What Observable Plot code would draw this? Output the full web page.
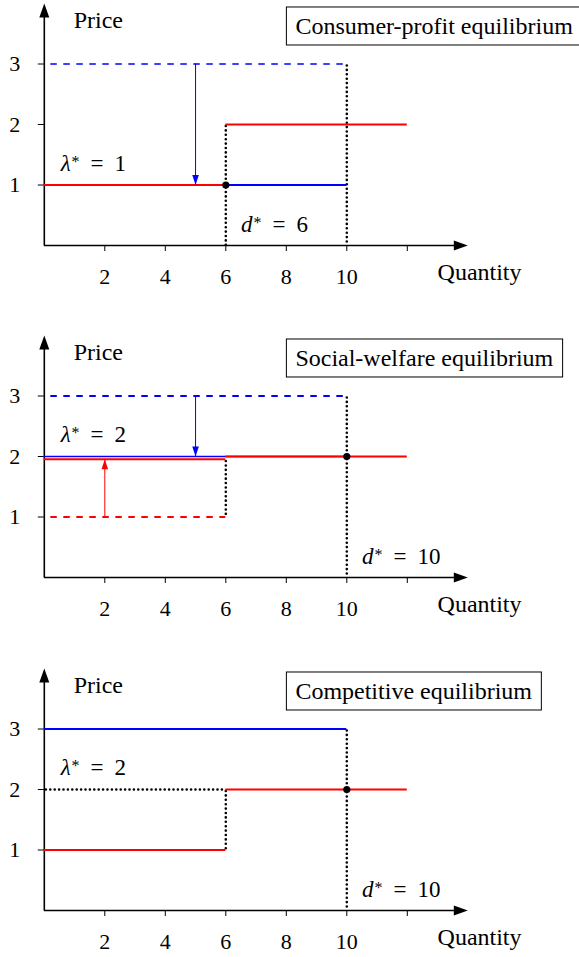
<!DOCTYPE html>
<html><head><meta charset="utf-8">
<script src="https://cdn.jsdelivr.net/npm/d3@7"></script>
<script src="https://cdn.jsdelivr.net/npm/@observablehq/plot@0.6"></script>
<style>
body{margin:0;background:#fff;}
#chart{width:579px;overflow:hidden;}
#chart svg{display:block;overflow:visible;}
</style></head><body><div id="chart"></div>
<script>
// ---- data ----
const xTicks = [2, 4, 6, 8, 10, 12];
const xTickLabels = ["2", "4", "6", "8", "10", ""];
const yTicks = [1, 2, 3];
const yTickLabels = ["1", "2", "3"];
const axisTitles = ["Price", "Quantity"];
const panelTitles = ["Consumer-profit equilibrium", "Social-welfare equilibrium", "Competitive equilibrium"];
const lambdaStar = [1, 2, 2];
const dStar = [6, 10, 10];

// consumer bids (blue dashed)
const bidSteps = [
  {panel: 0, x1: 0, x2: 10, y: 3},
  {panel: 1, x1: 0, x2: 10, y: 3}
];
// producer offers (red dashed)
const offerSteps = [
  {panel: 1, x1: 0, x2: 6, y: 1}
];
// demand curve (blue solid)
const demandSteps = [
  {panel: 0, x1: 6, x2: 10, y: 1},
  {panel: 1, x1: 0, x2: 10, y: 2},
  {panel: 2, x1: 0, x2: 10, y: 3}
];
// supply curve (red solid)
const supplySteps = [
  {panel: 0, x1: 0, x2: 6, y: 1},
  {panel: 0, x1: 6, x2: 12, y: 2},
  {panel: 1, x1: 0, x2: 6, y: 1.955},
  {panel: 1, x1: 6, x2: 12, y: 2},
  {panel: 2, x1: 0, x2: 6, y: 1},
  {panel: 2, x1: 6, x2: 12, y: 2}
];
// dotted price guide
const priceGuides = [
  {panel: 2, x1: 0, x2: 6, y: 2}
];
// dotted quantity guides
const quantityGuides = [
  {panel: 0, x: 6, y1: 2, y2: 0},
  {panel: 0, x: 10, y1: 3, y2: 0},
  {panel: 1, x: 6, y1: 1.95, y2: 1},
  {panel: 1, x: 10, y1: 3, y2: 0},
  {panel: 2, x: 6, y1: 2, y2: 1},
  {panel: 2, x: 10, y1: 3, y2: 0}
];
// price shifts (arrows)
const shifts = [
  {panel: 0, x: 5, from: 3, to: 1, side: "demand"},
  {panel: 1, x: 5, from: 3, to: 2, side: "demand"},
  {panel: 1, x: 2, from: 1, to: 1.955, side: "supply"}
];
// equilibrium points
const equilibria = [
  {panel: 0, x: 6, y: 1},
  {panel: 1, x: 10, y: 2},
  {panel: 2, x: 10, y: 2}
];

// ---- drawing ----
const BLUE = "#0000ff", RED = "#ff0000";
const FONT = "'Liberation Serif', 'Times New Roman', serif";
const panelHeights = [332, 333, 292];

const head = (hw) => ({draw(ctx, l) { ctx.moveTo(0, -l); ctx.lineTo(hw, 0); ctx.lineTo(-hw, 0); ctx.closePath(); }});

function makePanel(p) {
  const on = d => d.panel === p;
  const H = panelHeights[p];
  return Plot.plot({
    width: 579,
    height: H,
    marginLeft: 43.8,
    marginRight: 111.7,
    marginTop: 3,
    marginBottom: H - 245,
    x: {domain: [0, 14]},
    y: {domain: [0, 4]},
    style: {fontFamily: FONT, fontSize: "22px", background: "white", color: "black"},
    marks: [
      Plot.axisX({ticks: xTicks, tickFormat: d => xTickLabels[xTicks.indexOf(d)], tickSize: 6, tickPadding: 17, label: null, fontSize: 22, strokeWidth: 1}),
      Plot.axisY({ticks: yTicks, tickFormat: d => yTickLabels[yTicks.indexOf(d)], tickSize: 6, tickPadding: 18, label: null, fontSize: 22, strokeWidth: 1}),
      // axes with arrowheads
      Plot.ruleY([0], {x1: 0, x2: 13.6, stroke: "black", strokeWidth: 1.6}),
      Plot.ruleX([0], {y1: 0, y2: 3.8, stroke: "black", strokeWidth: 1.6}),
      Plot.vector([[14, 0]], {x: d => d[0], y: d => d[1], rotate: 90, length: 14, anchor: "end", shape: head(5), fill: "black", stroke: "none"}),
      Plot.vector([[0, 4]], {x: d => d[0], y: d => d[1], rotate: 0, length: 14, anchor: "end", shape: head(5), fill: "black", stroke: "none"}),
      // dotted guides
      Plot.ruleX(quantityGuides.filter(on), {x: "x", y1: "y1", y2: "y2", stroke: "black", strokeWidth: 2.6, strokeDasharray: "0,4.4", strokeDashoffset: -2, strokeLinecap: "round"}),
      Plot.ruleY(priceGuides.filter(on), {y: "y", x1: "x1", x2: "x2", stroke: "black", strokeWidth: 2.6, strokeDasharray: "0,4.4", strokeDashoffset: -6.5, strokeLinecap: "round"}),
      // bids and offers
      Plot.ruleY(bidSteps.filter(on), {y: "y", x1: "x1", x2: "x2", stroke: BLUE, strokeWidth: p === 0 ? 1.3 : 2, strokeDasharray: "6.5,6.5", strokeDashoffset: 6.5}),
      Plot.ruleY(offerSteps.filter(on), {y: "y", x1: "x1", x2: "x2", stroke: RED, strokeWidth: 2, strokeDasharray: "6.5,6.5", strokeDashoffset: 6.5}),
      // curves
      Plot.ruleY(demandSteps.filter(on), {y: "y", x1: "x1", x2: "x2", stroke: BLUE, strokeWidth: p === 1 ? 1.4 : 2}),
      Plot.ruleY(supplySteps.filter(on), {y: "y", x1: "x1", x2: "x2", stroke: RED, strokeWidth: 2}),
      // shift arrows
      Plot.ruleX(shifts.filter(on), {x: "x", y1: "from", y2: "to", stroke: d => d.side === "demand" ? BLUE : RED, strokeWidth: 1}),
      Plot.vector(shifts.filter(on), {x: "x", y: "to", rotate: d => d.to < d.from ? 180 : 0, length: 10, anchor: "end", shape: head(3.3), fill: d => d.side === "demand" ? BLUE : RED, stroke: "none"}),
      // equilibrium
      Plot.dot(equilibria.filter(on), {x: "x", y: "y", r: 3.6, fill: "black", stroke: "none"}),
      // labels
      Plot.text([axisTitles[0]], {x: 0.97, y: 3.73, text: d => d, textAnchor: "start", fontSize: 24}),
      Plot.text([axisTitles[1]], {x: 13.0, y: -0.45, text: d => d, textAnchor: "start", fontSize: 24}),
      Plot.text([lambdaStar[p]], {x: 0.54, y: d => d + 0.36, text: d => `λ* = ${d}`, textAnchor: "start", fontSize: 23}),
      Plot.text([dStar[p]], {x: d => d + 0.5, y: 0.34, text: d => `d* = ${d}`, textAnchor: "start", fontSize: 23}),
      Plot.text([panelTitles[p]], {x: 8.3, y: 3.62, text: d => d, textAnchor: "start", fontSize: 24})
    ]
  });
}

const chart = document.getElementById("chart");
for (let p = 0; p < 3; ++p) {
  const svg = makePanel(p);
  chart.appendChild(svg);
  // math-style labels
  d3.select(svg).selectAll("text").each(function() {
    const m = /^([λd])\* = (\d+)$/.exec(this.textContent);
    if (!m) return;
    const t = d3.select(this);
    t.text(null);
    t.append("tspan").attr("font-style", "italic").text(m[1]);
    t.append("tspan").attr("font-size", "16px").attr("dx", 1).attr("dy", -4).text("*");
    t.append("tspan").attr("dx", 11).attr("dy", 4).text("=");
    t.append("tspan").attr("dx", 11).text(m[2]);
  });
  // framed panel title
  const yScale = svg.scale("y");
  const sb = svg.getBoundingClientRect();
  d3.select(svg).selectAll("text").each(function() {
    if (this.textContent !== panelTitles[p]) return;
    const b = this.getBoundingClientRect();
    const cy = yScale.apply(3.62);
    const g = this.parentNode;
    const rect = document.createElementNS("http://www.w3.org/2000/svg", "rect");
    d3.select(rect)
      .attr("x", b.left - sb.left - 9).attr("y", cy - 19)
      .attr("width", b.width + 18).attr("height", 38)
      .attr("fill", "white").attr("stroke", "black").attr("stroke-width", 1);
    svg.insertBefore(rect, g);
  });
}
</script></body></html>
